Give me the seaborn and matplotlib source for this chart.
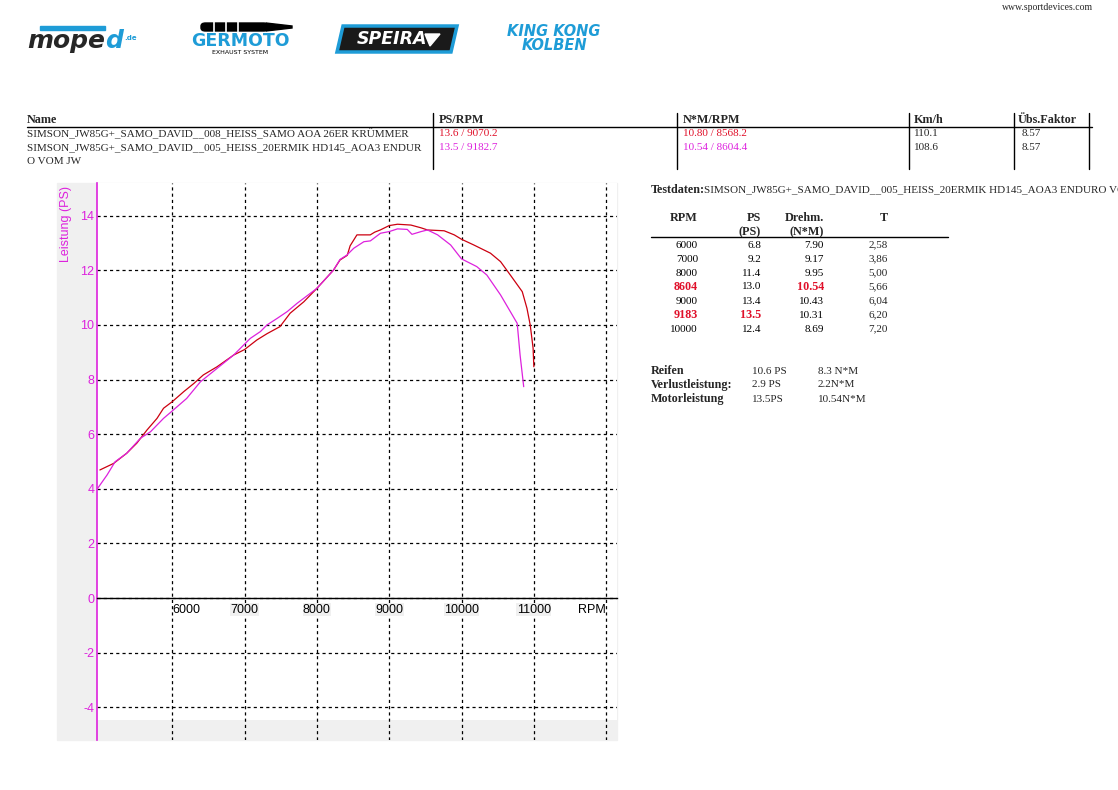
import matplotlib
matplotlib.use("Agg")
import matplotlib.pyplot as plt
import seaborn as sns
from matplotlib.patches import Rectangle, Polygon, FancyBboxPatch
from matplotlib.lines import Line2D

# run 008 (red) and run 005 (magenta), power curves
rpm_008 = [5000, 5190, 5370, 5510, 5650, 5790, 5880, 6000, 6160, 6300, 6430, 6620,
           6850, 7000, 7170, 7310, 7490, 7630, 7820, 8000, 8230, 8320, 8420, 8460,
           8554, 8738, 8800, 8877, 9000, 9115, 9300, 9438, 9530, 9760, 9900, 10000,
           10170, 10400, 10540, 10675, 10840, 10905, 10950, 10990, 11000]
ps_008 = [4.69, 4.93, 5.30, 5.67, 6.15, 6.58, 6.95, 7.19, 7.56, 7.86, 8.17, 8.47,
          8.90, 9.10, 9.45, 9.68, 9.94, 10.43, 10.85, 11.34, 12.01, 12.38, 12.55, 12.90,
          13.30, 13.30, 13.40, 13.48, 13.64, 13.69, 13.66, 13.56, 13.48, 13.45, 13.30, 13.14,
          12.93, 12.63, 12.32, 11.83, 11.22, 10.61, 10.00, 9.15, 8.47]

rpm_005 = [4970, 5100, 5210, 5370, 5560, 5700, 5880, 6000, 6200, 6390, 6620, 6850,
           7080, 7220, 7310, 7450, 7590, 7725, 8000, 8230, 8320, 8415, 8510, 8650,
           8740, 8880, 9000, 9115, 9250, 9315, 9440, 9530, 9670, 9850, 10000, 10210,
           10350, 10540, 10675, 10770, 10810, 10860]
ps_005 = [4.02, 4.51, 4.99, 5.30, 5.85, 6.09, 6.58, 6.85, 7.31, 7.92, 8.41, 8.90,
          9.51, 9.76, 10.00, 10.24, 10.49, 10.79, 11.34, 12.01, 12.40, 12.56, 12.81, 13.05,
          13.08, 13.36, 13.42, 13.52, 13.50, 13.32, 13.42, 13.48, 13.30, 12.93, 12.42, 12.14,
          11.83, 11.10, 10.49, 10.06, 8.90, 7.74]

x_ticks = [6000, 7000, 8000, 9000, 10000, 11000, 12000]
x_labels = ["6000", "7000", "8000", "9000", "10000", "11000", "RPM"]
y_ticks = [-4, -2, 0, 2, 4, 6, 8, 10, 12, 14]

# header table
head_cols = ["Name", "PS/RPM", "N*M/RPM", "Km/h", "Übs.Faktor"]
run_names = ["SIMSON_JW85G+_SAMO_DAVID__008_HEISS_SAMO AOA 26ER KRÜMMER",
             "SIMSON_JW85G+_SAMO_DAVID__005_HEISS_20ERMIK HD145_AOA3 ENDURO VOM JW"]
run_ps = ["13.6 / 9070.2", "13.5 / 9182.7"]
run_nm = ["10.80 / 8568.2", "10.54 / 8604.4"]
run_kmh = ["110.1", "108.6"]
run_fak = ["8.57", "8.57"]

# test data table
tab_rpm = ["6000", "7000", "8000", "8604", "9000", "9183", "10000"]
tab_ps = ["6.8", "9.2", "11.4", "13.0", "13.4", "13.5", "12.4"]
tab_nm = ["7.90", "9.17", "9.95", "10.54", "10.43", "10.31", "8.69"]
tab_t = ["2,58", "3,86", "5,00", "5,66", "6,04", "6,20", "7,20"]
sum_labels = ["Reifen", "Verlustleistung:", "Motorleistung"]
sum_ps = ["10.6 PS", "2.9 PS", "13.5PS"]
sum_nm = ["8.3 N*M", "2.2N*M", "10.54N*M"]

RED = "#cc0010"
RED_TXT = "#e0102a"
MAG = "#dd22dd"
BLUE = "#1e9cd7"
GRAY = "#f0f0f0"
SERIF = ["Liberation Serif", "DejaVu Serif"]
FS = 8.0
FSB = 8.7

W, H = 1118, 790
sns.set_style("white")
plt.rcParams["font.family"] = ["Liberation Sans", "DejaVu Sans"]
plt.rcParams["axes.unicode_minus"] = False

fig = plt.figure(figsize=(W / 100, H / 100), dpi=100)


def fx(x):
    return x / W


def fy(y):
    return 1 - y / H


def ftxt(x, y, s, **kw):
    kw.setdefault("va", "center")
    kw.setdefault("family", SERIF)
    if kw.get("weight") == "bold":
        kw.setdefault("fontsize", FSB)
    kw.setdefault("fontsize", FS)
    return fig.text(fx(x), fy(y), s, **kw)


def hline(x0, x1, y, lw=1.0, color="black"):
    fig.add_artist(Line2D([fx(x0), fx(x1)], [fy(y), fy(y)], color=color, lw=lw))


def vline(x, y0, y1, lw=1.0, color="black"):
    fig.add_artist(Line2D([fx(x), fx(x)], [fy(y0), fy(y1)], color=color, lw=lw))


# --- logos (rough text versions) ---
fig.add_artist(Rectangle((fx(40), fy(30)), fx(105) - fx(40), fy(26) - fy(30), color=BLUE))
r = fig.canvas.get_renderer()
t = ftxt(27, 41, "mope", family="DejaVu Sans", fontsize=18, weight="bold", style="italic")
bb = t.get_window_extent(r)
t2 = fig.text(bb.x1 / W, fy(41), "d", va="center", family="DejaVu Sans", fontsize=18,
              weight="bold", style="italic", color=BLUE)
bb2 = t2.get_window_extent(r)
fig.text(bb2.x1 / W + 0.001, fy(38), ".de", va="center", family="DejaVu Sans", fontsize=5,
         weight="bold", color=BLUE)

fig.add_artist(FancyBboxPatch((fx(201), fy(31)), fx(268) - fx(201), fy(23) - fy(31),
                              boxstyle="round,pad=0,rounding_size=0.004", color="black"))
fig.add_artist(Polygon([(fx(266), fy(23)), (fx(292), fy(26)), (fx(292), fy(28)), (fx(266), fy(31))],
                       closed=True, color="black"))
for sx in (214, 226, 238):
    vline(sx, 22, 32, lw=1.2, color="white")
ftxt(240, 41, "GERMOTO", ha="center", family="DejaVu Sans", fontsize=12.5, weight="bold", color=BLUE)
ftxt(240, 52, "EXHAUST SYSTEM", ha="center", family="DejaVu Sans", fontsize=4.5, color="black")

fig.add_artist(Polygon([(fx(343), fy(26)), (fx(457), fy(26)), (fx(451), fy(52)), (fx(337), fy(52))],
                       closed=True, facecolor="#1a1a1a", edgecolor=BLUE, lw=2.5))
ftxt(392, 39, "SPEIRA", ha="center", family="DejaVu Sans", fontsize=12.5, weight="bold",
     style="italic", color="white")
fig.add_artist(Polygon([(fx(425), fy(34)), (fx(440), fy(34)), (fx(430), fy(46))],
                       closed=True, facecolor="white"))

ftxt(554, 31, "KING KONG", ha="center", family="DejaVu Sans", fontsize=10.5, weight="bold",
     style="italic", color=BLUE)
ftxt(554, 46, "KOLBEN", ha="center", family="DejaVu Sans", fontsize=10.5, weight="bold",
     style="italic", color=BLUE)

ftxt(1093, 7, "www.sportdevices.com", ha="right", fontsize=7)

# --- header table ---
col_x = [27, 439, 683, 914, 1018]
for cx, c in zip(col_x, head_cols):
    ftxt(cx, 120, c, weight="bold")
hline(27, 1092, 127)
for vx in (433, 677, 909, 1014, 1089):
    vline(vx, 113, 169)
name_lines = [run_names[0], run_names[1][:60], run_names[1][60:]]
for i, s in enumerate(name_lines):
    ftxt(27, 134 + 14 * i, s)
for i, col in enumerate([RED_TXT, MAG]):
    y = 134 + 14 * i
    ftxt(439, y, run_ps[i], color=col)
    ftxt(683, y, run_nm[i], color=col)
    ftxt(914, y, run_kmh[i])
    ftxt(1022, y, run_fak[i])

# --- test data panel (title runs off the page, as in the original) ---
t = ftxt(651, 190, "Testdaten:", weight="bold")
bb = t.get_window_extent(r)
fig.text((bb.x1 - 1.5) / W, fy(190), run_names[1], va="center", family=SERIF, fontsize=FS)

ftxt(698, 218, "RPM", ha="right", weight="bold")
ftxt(761, 218, "PS", ha="right", weight="bold")
ftxt(761, 232, "(PS)", ha="right", weight="bold")
ftxt(824, 218, "Drehm.", ha="right", weight="bold")
ftxt(824, 232, "(N*M)", ha="right", weight="bold")
ftxt(888, 218, "T", ha="right", weight="bold")
hline(651, 948, 237)
for i in range(len(tab_rpm)):
    y = 245 + 14 * i
    hot_rpm = tab_rpm[i] in ("8604", "9183")
    ftxt(698, y, tab_rpm[i], ha="right", color=RED_TXT if hot_rpm else "black",
         weight="bold" if hot_rpm else "normal")
    hot_ps = tab_rpm[i] == "9183"
    ftxt(761, y, tab_ps[i], ha="right", color=RED_TXT if hot_ps else "black",
         weight="bold" if hot_ps else "normal")
    hot_nm = tab_rpm[i] == "8604"
    ftxt(824, y, tab_nm[i], ha="right", color=RED_TXT if hot_nm else "black",
         weight="bold" if hot_nm else "normal")
    ftxt(888, y, tab_t[i], ha="right")
for i in range(len(sum_labels)):
    y = 371 + 14 * i
    ftxt(651, y, sum_labels[i], weight="bold")
    ftxt(752, y, sum_ps[i])
    ftxt(818, y, sum_nm[i])

# --- chart ---
fig.add_artist(Rectangle((fx(57), fy(740)), fx(617) - fx(57), fy(183) - fy(740),
                         color=GRAY, zorder=0))
ax = fig.add_axes([fx(97), fy(740), fx(617) - fx(97), fy(183) - fy(740)])
ax.set_facecolor("white")
ax.set_xlim(4960, 12150)
ax.set_ylim(-5.2, 15.2)
ax.axhspan(-5.2, -4.47, color=GRAY, lw=0, zorder=0.2)

sns.lineplot(x=rpm_008, y=ps_008, color=RED, lw=0.9, sort=False, estimator=None, ax=ax)
sns.lineplot(x=rpm_005, y=ps_005, color=MAG, lw=0.9, sort=False, estimator=None, ax=ax)

ax.set_axisbelow(True)
ax.set_xticks(x_ticks)
ax.set_xticks(range(5000, 12100, 200), minor=True)
ax.set_yticks(y_ticks)
ax.grid(True, which="major", color="black", linestyle=(0, (2.5, 2.5)), lw=0.9)
for s in ("top", "right"):
    ax.spines[s].set_visible(False)
ax.spines["left"].set_color(MAG)
ax.spines["left"].set_linewidth(1.2)
ax.spines["bottom"].set_position(("data", 0))
ax.spines["bottom"].set_color("black")
ax.spines["bottom"].set_linewidth(1.0)
ax.tick_params(axis="y", length=0, pad=2, labelcolor=MAG, labelsize=9)
ax.tick_params(axis="x", which="major", length=0, pad=4, labelcolor="black", labelsize=9)
ax.tick_params(axis="x", which="minor", length=3, width=0.8, direction="out", color="black")
ax.set_xticklabels(x_labels)
labs = ax.get_xticklabels()
labs[0].set_ha("left")
labs[-1].set_ha("right")
for lab in labs[1:6]:
    lab.set_bbox(dict(facecolor=GRAY, edgecolor="none", pad=0.3))
ax.set_xlabel("")
ax.set_ylabel("")
fig.text(fx(66), fy(186), "Leistung (PS)", rotation=90, ha="center", va="top",
         color=MAG, fontsize=9)

fig.savefig("out.png", dpi=100, facecolor="white")
